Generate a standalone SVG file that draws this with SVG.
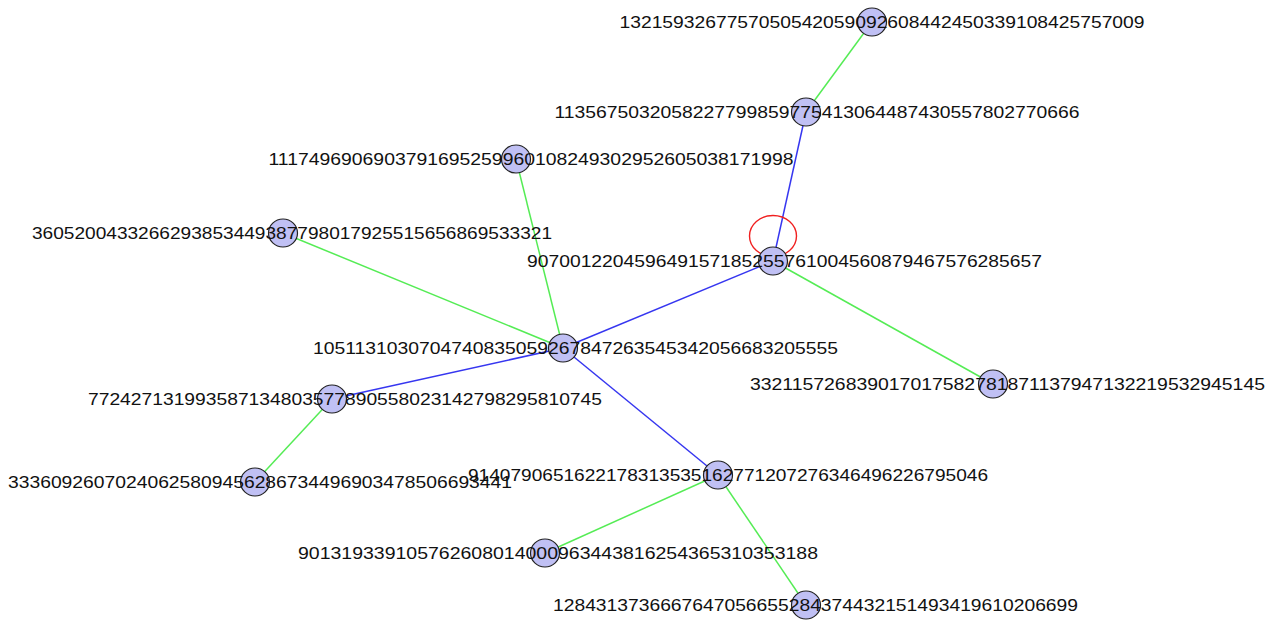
<svg xmlns="http://www.w3.org/2000/svg" width="1281" height="622" viewBox="0 0 1281 622">
  <style>
    .bg { fill: #ffffff; }
    .e-green { stroke: #55ec55; stroke-width: 1.5; fill: none; }
    .e-blue { stroke: #3636f0; stroke-width: 1.5; fill: none; }
    .node { fill: #c0c0f4; stroke: #222222; stroke-width: 1.2; }
    .pick { fill: none; stroke: #f02020; stroke-width: 1.4; }
    .lbl { font-family: "Liberation Sans", Arial, sans-serif; font-size: 16.5px; fill: #111111; }
  </style>
  <rect class="bg" x="0" y="0" width="1281" height="622"/>

  <g id="edges">
    <line class="e-green" x1="872" y1="22" x2="806" y2="112"/>
    <line class="e-blue" x1="806" y1="112" x2="773" y2="261"/>
    <line class="e-green" x1="516" y1="159" x2="563" y2="348"/>
    <line class="e-green" x1="283" y1="233" x2="563" y2="348"/>
    <line class="e-blue" x1="773" y1="261" x2="563" y2="348"/>
    <line class="e-green" x1="773" y1="261" x2="993" y2="384"/>
    <line class="e-blue" x1="563" y1="348" x2="332" y2="399"/>
    <line class="e-blue" x1="563" y1="348" x2="718" y2="475"/>
    <line class="e-green" x1="332" y1="399" x2="255" y2="482"/>
    <line class="e-green" x1="718" y1="475" x2="545" y2="553"/>
    <line class="e-green" x1="718" y1="475" x2="806" y2="605"/>
  </g>

  <!-- picked-vertex marker -->
  <ellipse id="selection" class="pick" cx="773" cy="236" rx="23.5" ry="20.5"/>

  <g id="n1"><ellipse class="node" cx="872" cy="22" rx="14.5" ry="14"/><text class="lbl" x="619.5" y="28" textLength="525" lengthAdjust="spacingAndGlyphs">1321593267757050542059092608442450339108425757009</text></g>
  <g id="n2"><ellipse class="node" cx="806" cy="112" rx="14.5" ry="14"/><text class="lbl" x="554.5" y="118" textLength="525" lengthAdjust="spacingAndGlyphs">1135675032058227799859775413064487430557802770666</text></g>
  <g id="n3"><ellipse class="node" cx="516" cy="159" rx="14.5" ry="14"/><text class="lbl" x="268.5" y="165" textLength="525" lengthAdjust="spacingAndGlyphs">1117496906903791695259960108249302952605038171998</text></g>
  <g id="n4"><ellipse class="node" cx="283" cy="233" rx="14.5" ry="14"/><text class="lbl" x="32" y="239" textLength="520" lengthAdjust="spacingAndGlyphs">3605200433266293853449387798017925515656869533321</text></g>
  <g id="n5"><ellipse class="node" cx="773" cy="261" rx="14.5" ry="14"/><text class="lbl" x="527" y="267" textLength="515" lengthAdjust="spacingAndGlyphs">907001220459649157185255761004560879467576285657</text></g>
  <g id="n6"><ellipse class="node" cx="563" cy="348" rx="14.5" ry="14"/><text class="lbl" x="313" y="354" textLength="525" lengthAdjust="spacingAndGlyphs">1051131030704740835059267847263545342056683205555</text></g>
  <g id="n7"><ellipse class="node" cx="993" cy="384" rx="14.5" ry="14"/><text class="lbl" x="750" y="390" textLength="515" lengthAdjust="spacingAndGlyphs">332115726839017017582781871137947132219532945145</text></g>
  <g id="n8"><ellipse class="node" cx="332" cy="399" rx="14.5" ry="14"/><text class="lbl" x="88" y="405" textLength="514" lengthAdjust="spacingAndGlyphs">772427131993587134803577890558023142798295810745</text></g>
  <g id="n9"><ellipse class="node" cx="255" cy="482" rx="14.5" ry="14"/><text class="lbl" x="8" y="488" textLength="504" lengthAdjust="spacingAndGlyphs">33360926070240625809456286734496903478506693441</text></g>
  <g id="n10"><ellipse class="node" cx="718" cy="475" rx="14.5" ry="14"/><text class="lbl" x="468" y="481" textLength="520" lengthAdjust="spacingAndGlyphs">9140790651622178313535162771207276346496226795046</text></g>
  <g id="n11"><ellipse class="node" cx="545" cy="553" rx="14.5" ry="14"/><text class="lbl" x="298" y="559" textLength="520" lengthAdjust="spacingAndGlyphs">901319339105762608014000963443816254365310353188</text></g>
  <g id="n12"><ellipse class="node" cx="806" cy="605" rx="14.5" ry="14"/><text class="lbl" x="553" y="611" textLength="525" lengthAdjust="spacingAndGlyphs">1284313736667647056655284374432151493419610206699</text></g>
</svg>
